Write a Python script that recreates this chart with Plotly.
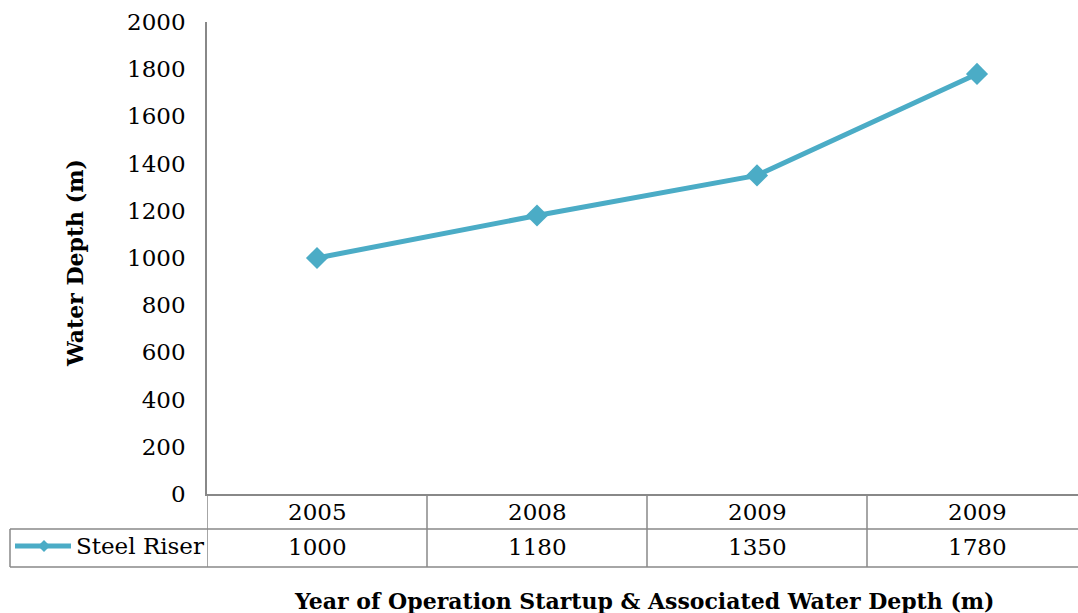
import plotly.graph_objects as go

# Chart data
years = ["2005", "2008", "2009", "2009"]
depths = [1000, 1180, 1350, 1780]
series_name = "Steel Riser"
y_ticks = [0, 200, 400, 600, 800, 1000, 1200, 1400, 1600, 1800, 2000]

W, H = 1078, 613
L, R, T, B = 207, 0, 22, 119
plot_w = W - L - R
plot_h = H - T - B

LINE_COLOR = "#4BACC6"
GRID_COLOR = "#888888"
FONT = "DejaVu Serif"
TXT = 23


def py(pix):
    """Pixel row -> paper y coordinate."""
    return (H - B - pix) / plot_h


def px(pix):
    """Pixel column -> paper x coordinate."""
    return (pix - L) / plot_w


xs = list(range(len(years)))
col_w = 220
x_max = -0.5 + plot_w / col_w

fig = go.Figure()
fig.add_trace(go.Scatter(
    x=xs, y=depths, mode="lines+markers", name=series_name,
    line=dict(color=LINE_COLOR, width=5),
    marker=dict(symbol="diamond", size=17, color=LINE_COLOR),
    showlegend=False, cliponaxis=False,
))

shapes = []
row1_bottom = 529
row2_bottom = 567
# horizontal rules of the data table
for yy in (row1_bottom, row2_bottom):
    shapes.append(dict(type="line", xref="paper", yref="paper",
                       x0=px(10), x1=1, y0=py(yy), y1=py(yy),
                       line=dict(color=GRID_COLOR, width=1.5)))
# left edge of the series row
shapes.append(dict(type="line", xref="paper", yref="paper",
                   x0=px(10), x1=px(10), y0=py(row1_bottom), y1=py(row2_bottom),
                   line=dict(color=GRID_COLOR, width=1.5)))
# column separators
for k in range(len(years)):
    shapes.append(dict(type="line", xref="x", yref="paper",
                       x0=k - 0.5, x1=k - 0.5, y0=0, y1=py(row2_bottom),
                       line=dict(color=GRID_COLOR, width=1.5)))
# legend key: line + diamond
key_y = py(546)
shapes.append(dict(type="line", xref="paper", yref="paper",
                   x0=px(15), x1=px(71), y0=key_y, y1=key_y,
                   line=dict(color=LINE_COLOR, width=5)))
cx, cy, d = 44, 546, 6
shapes.append(dict(type="path", xref="paper", yref="paper",
                   path=f"M {px(cx - d)} {py(cy)} L {px(cx)} {py(cy - d)} "
                        f"L {px(cx + d)} {py(cy)} L {px(cx)} {py(cy + d)} Z",
                   fillcolor=LINE_COLOR, line=dict(width=0)))

annotations = []
for k, (yr, v) in enumerate(zip(years, depths)):
    annotations.append(dict(x=k, y=py(512), xref="x", yref="paper", text=yr,
                            xanchor="center", yanchor="middle", showarrow=False,
                            font=dict(family=FONT, size=TXT, color="black")))
    annotations.append(dict(x=k, y=py(547), xref="x", yref="paper", text=str(v),
                            xanchor="center", yanchor="middle", showarrow=False,
                            font=dict(family=FONT, size=TXT, color="black")))
annotations.append(dict(x=px(74), y=py(546), xref="paper", yref="paper", text=series_name,
                        xanchor="left", yanchor="middle", showarrow=False,
                        font=dict(family=FONT, size=TXT, color="black")))
annotations.append(dict(x=px(644), y=py(601), xref="paper", yref="paper",
                        text="<b>Year of Operation Startup &amp; Associated Water Depth (m)</b>",
                        xanchor="center", yanchor="middle",
                        showarrow=False, font=dict(family=FONT, size=22, color="black")))
annotations.append(dict(x=px(75), y=py(263), xref="paper", yref="paper",
                        text="<b>Water Depth (m)</b>", textangle=-90,
                        xanchor="center", yanchor="middle",
                        showarrow=False, font=dict(family=FONT, size=22, color="black")))

fig.update_layout(
    width=W, height=H,
    margin=dict(l=L, r=R, t=T, b=B, autoexpand=False),
    paper_bgcolor="white", plot_bgcolor="white",
    shapes=shapes, annotations=annotations,
    xaxis=dict(range=[-0.5, x_max], showticklabels=False, showgrid=False,
               zeroline=False, showline=True, linecolor=GRID_COLOR, linewidth=1.5,
               ticks=""),
    yaxis=dict(range=[0, 2000], tickvals=y_ticks, showgrid=False, zeroline=False,
               showline=True, linecolor=GRID_COLOR, linewidth=1.5, ticks="",
               ticklabelstandoff=15,
               tickfont=dict(family=FONT, size=TXT, color="black")),
)

fig.write_html("out.html")
